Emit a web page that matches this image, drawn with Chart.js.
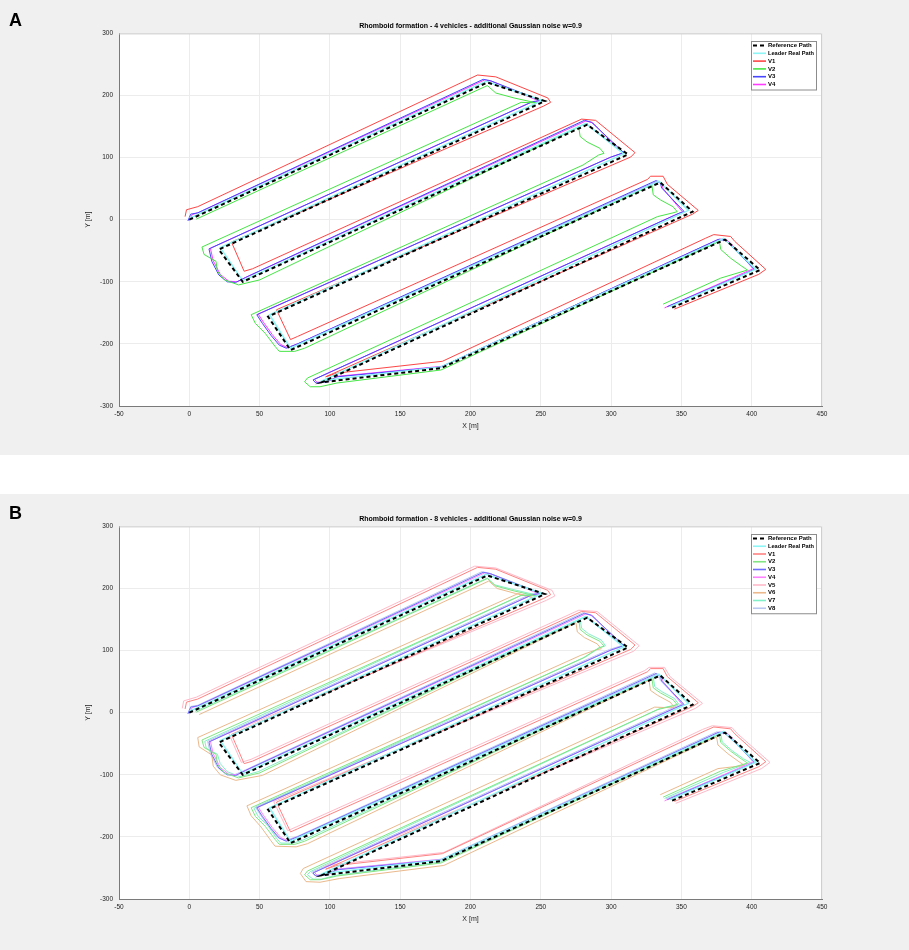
<!DOCTYPE html>
<html><head><meta charset="utf-8">
<script src="https://cdn.jsdelivr.net/npm/chart.js@4.4.1/dist/chart.umd.min.js"></script>
<style>
body{margin:0;width:909px;height:950px;background:#fff;position:relative;overflow:hidden;font-family:'Liberation Sans',Arial,sans-serif}
.panel{position:absolute;left:0;width:909px;background:#f0f0f0}
#pa{top:0;height:455px}
#pb{top:494px;height:456px}
.lbl{position:absolute;left:9px;font-weight:bold;font-size:18px;color:#000}
canvas{position:absolute;left:0;top:0}
</style></head><body>
<div class="panel" id="pa"><canvas id="ca" width="909" height="455"></canvas><div class="lbl" style="top:10px">A</div></div>
<div class="panel" id="pb"><canvas id="cb" width="909" height="456"></canvas><div class="lbl" style="top:9px">B</div></div>
<script>
// ---------- data (metres) ----------
const xTicks = [-50,0,50,100,150,200,250,300,350,400,450];
const yTicks = [-300,-200,-100,0,100,200,300];

const refX = [0,212,253,21,38,283,312,56,72,335,358,94,179,381,406,343];
const refY = [0,221,191,-48,-100,153,105,-156,-210,60,13,-262,-239,-32,-81,-142];

const leadX = [0,211,251,22,38,282,309,57,72,334,355,95,179,380,403,342];
const leadY = [2,223,192,-45,-98,155,106,-153,-207,62,15,-259,-237,-30,-80,-140];

// Panel A vehicles
const a1X = [-3,-2,6,205,218,255,257,252,30,39,45,279,289,317,314,62,72,77,326,328,337,340,362,358,97,105,180,367,373,385,388,410,405,345];
const a1Y = [5,16,21,233,230,196,189,183,-36,-83,-79,162,160,108,101,-145,-193,-188,65,70,70,57,15,9,-253,-247,-228,-30,-24,-27,-35,-80,-88,-144];

const a2X = [5,212,218,231,247,236,9,10.5,19,20,25,35,50,277,278,283,292,295,291,280,44,47,54,61,64,75,82,329,330,335,344,347,344,333,84,82,86,93,105,179,377,378,385,393,397,378,337];
const a2Y = [1,216,204,196,188,189,-44,-56,-67,-83,-97,-105,-97,149,134,125,115,107,104,88,-153,-167,-183,-204,-212,-212,-207,56,40,32,21,13,11,5,-255,-261,-269,-269,-263,-242,-35,-48,-62,-75,-81,-94,-136];

const a3X = [-1,1,6,209,214,250,244,14,16,21,27,33,40,281,286,309,300,48,52,58,64,69,77,332,335,336,352,349,345,88,90,98,105,179,376,381,384,402,395,340];
const a3Y = [-2,9,11,226,224,192,190,-47,-67,-89,-100,-101,-93,160,157,108,101,-153,-167,-186,-202,-207,-200,63,59,51,13,11,7,-258,-263,-261,-253,-237,-32,-33,-39,-80,-87,-140];

const a4X = [0,2,7,210,215,249,243,15,17,22,28,34,41,282,287,308,299,49,53,59,65,70,78,333,336,337,351,348,344,89,91,99,106,180,377,382,385,401,394,338];
const a4Y = [-1,8,12,225,223,191,189,-46,-66,-88,-99,-100,-92,159,156,107,100,-152,-166,-185,-201,-206,-199,62,58,50,12,10,6,-257,-262,-260,-252,-236,-31,-32,-38,-79,-86,-142];

// Panel B vehicles
const b1X = [-3,-2,6,205,218,255,257,252,30,39,45,279,289,317,314,62,72,77,326,328,337,340,362,358,97,105,180,367,373,385,388,410,405,345];
const b1Y = [6,17,22,234,231,197,190,184,-35,-82,-78,163,161,109,102,-144,-192,-187,66,71,71,58,16,10,-252,-246,-227,-29,-23,-26,-34,-79,-87,-143];
const b2X = [5,212,218,231,247,236,9,10.5,19,20,25,35,50,277,278,283,292,295,291,280,44,47,54,61,64,75,82,329,330,335,344,347,344,333,84,82,86,93,105,179,377,378,385,393,397,378,337];
const b2Y = [1,216,204,196,188,189,-44,-56,-67,-83,-97,-105,-97,149,134,125,115,107,104,88,-153,-167,-183,-204,-212,-212,-207,56,40,32,21,13,11,5,-255,-261,-269,-269,-263,-242,-35,-48,-62,-75,-81,-94,-136];
const b3X = [-1,1,6,209,214,250,244,14,16,21,27,33,40,281,286,309,300,48,52,58,64,69,77,332,335,336,352,349,345,88,90,98,105,179,376,381,384,402,395,340];
const b3Y = [-2,9,11,226,224,192,190,-47,-67,-89,-100,-101,-93,160,157,108,101,-153,-167,-186,-202,-207,-200,63,59,51,13,11,7,-258,-263,-261,-253,-237,-32,-33,-39,-80,-87,-140];
const b4X = [0,2,7,210,215,249,243,15,17,22,28,34,41,282,287,308,299,49,53,59,65,70,78,333,336,337,351,348,344,89,91,99,106,180,377,382,385,401,394,338];
const b4Y = [-1,8,12,225,223,191,189,-46,-66,-88,-99,-100,-92,159,156,107,100,-152,-166,-185,-201,-206,-199,62,58,50,12,10,6,-257,-262,-260,-252,-236,-31,-32,-38,-79,-86,-142];
const b5X = [-5,-4,5,203,218,258,260,254,28,37,44,277,290,320,316,60,70,76,324,327,338,342,365,360,96,104,181,365,372,386,390,413,407,346];
const b5Y = [7,19,25,236,233,197,188,181,-33,-80,-75,165,163,108,99,-143,-190,-184,68,73,73,58,15,7,-248,-244,-225,-27,-21,-24,-34,-80,-90,-146];
const b6X = [7,213,219,232,245,234,6,7,16,17,22,33,52,275,276,281,290,293,289,278,41,44,51,58,61,76,84,327,328,333,342,345,342,331,81,79,83,93,107,181,375,376,383,391,395,376,335];
const b6Y = [-3,212,200,192,185,192,-40,-55,-68,-86,-100,-109,-101,145,130,121,111,103,101,92,-150,-166,-184,-206,-215,-216,-211,52,36,28,17,9,8,9,-251,-259,-272,-273,-267,-246,-39,-52,-66,-79,-85,-90,-132];
const b7X = [4,212,217,231,248,238,11,12,20,22,27,36,49,278,279,284,293,296,292,282,46,49,56,62,65,74,81,330,331,336,345,348,345,335,86,84,88,94,104,179,378,379,386,394,399,380,338];
const b7Y = [2,217,206,198,189,191,-46,-57,-67,-82,-95,-103,-95,150,136,127,117,108,105,90,-154,-167,-182,-202,-210,-210,-205,57,42,34,23,14,12,7,-256,-261,-268,-268,-262,-240,-34,-47,-61,-74,-80,-96,-138];
const b8X = [-1,1,6,208,213,250,243,13,15,20,26,32,40,280,285,309,299,47,51,57,63,68,77,331,334,335,351,348,344,87,89,97,104,179,375,380,383,403,396,339];
const b8Y = [-1,10,12,227,225,193,191,-46,-66,-88,-99,-100,-92,161,158,109,102,-152,-166,-185,-201,-206,-199,64,60,52,14,12,8,-257,-262,-260,-252,-236,-31,-32,-38,-79,-86,-139];

// ---------- helpers ----------
const FONT = '"Liberation Sans", Arial, sans-serif';
function pts(xs, ys){ return xs.map((x,i)=>({x:x, y:ys[i]})); }
function ds(label, xs, ys, color, width, dash){
  return {label:label, data:pts(xs,ys), borderColor:color, backgroundColor:color,
    borderWidth:width, borderDash:dash||[], showLine:true, pointRadius:0, fill:false, tension:0};
}

const whiteArea = {
  id:'whiteArea',
  beforeDraw(c){
    const a=c.chartArea, ctx=c.ctx;
    ctx.save(); ctx.fillStyle='#ffffff'; ctx.fillRect(a.left,a.top,a.right-a.left,a.bottom-a.top);
    ctx.restore();
  },
  afterDraw(c){
    const a=c.chartArea, ctx=c.ctx;
    ctx.save(); ctx.strokeStyle='#cfcfcf'; ctx.lineWidth=1;
    ctx.beginPath(); ctx.moveTo(a.left,a.top+0.5); ctx.lineTo(a.right-0.5,a.top+0.5); ctx.lineTo(a.right-0.5,a.bottom); ctx.stroke();
    ctx.restore();
  }
};

const boxLegend = {
  id:'boxLegend',
  afterDatasetsDraw(c, args, opts){
    const ctx=c.ctx, d=c.data.datasets;
    const x0=opts.x, y0=opts.y, w=opts.w, rowH=opts.rowH;
    const h = 4.5 + rowH*(d.length-1) + 5;
    ctx.save();
    ctx.fillStyle='#ffffff'; ctx.fillRect(x0,y0,w,h);
    ctx.strokeStyle='#8c8c8c'; ctx.lineWidth=1; ctx.strokeRect(x0+0.5,y0+0.5,w,h);
    ctx.font='bold 6px ' + FONT;
    ctx.textBaseline='middle'; ctx.fillStyle='#000';
    d.forEach((s,i)=>{
      const yy = y0 + 4.5 + rowH*i;
      ctx.beginPath(); ctx.setLineDash(s.borderDash||[]);
      ctx.strokeStyle=s.borderColor; ctx.lineWidth=Math.max(1.6, s.borderWidth);
      ctx.moveTo(x0+2,yy); ctx.lineTo(x0+15,yy); ctx.stroke();
      ctx.setLineDash([]);
      ctx.fillStyle='#000';
      ctx.fillText(s.label, x0+17, yy, w-19);
    });
    ctx.restore();
  }
};

function makeChart(id, title, datasets, legendY, rowH, padTop, padBottom){
  return new Chart(document.getElementById(id), {
    type:'scatter',
    data:{datasets:datasets},
    plugins:[whiteArea, boxLegend],
    options:{
      responsive:false, animation:false, devicePixelRatio:1,
      layout:{padding:{left:80,right:87,top:padTop,bottom:padBottom}},
      plugins:{
        legend:{display:false}, tooltip:{enabled:false},
        title:{display:true, fullSize:false, text:title, color:'#000', font:{family:FONT, size:7, weight:'bold'}, padding:{top:0,bottom:3}},
        boxLegend:{x:751, y:legendY, w:65, rowH:rowH}
      },
      scales:{
        x:{type:'linear', min:-50, max:450,
          afterBuildTicks:(s)=>{ s.ticks = xTicks.map(v=>({value:v})); },
          afterFit:(s)=>{ s.height=24; },
          grid:{color:'#ececec', drawTicks:false},
          border:{color:'#7a7a7a'},
          ticks:{padding:4, color:'#222', font:{family:FONT, size:6.5}, maxRotation:0},
          title:{display:true, text:'X [m]', color:'#222', font:{family:FONT, size:7}, padding:{top:1,bottom:0}}
        },
        y:{type:'linear', min:-300, max:300,
          afterBuildTicks:(s)=>{ s.ticks = yTicks.map(v=>({value:v})); },
          afterFit:(s)=>{ s.width=39; },
          grid:{color:'#ececec', drawTicks:false},
          border:{color:'#7a7a7a'},
          ticks:{padding:6, color:'#222', font:{family:FONT, size:6.5}},
          title:{display:true, text:'Y [m]', color:'#222', font:{family:FONT, size:7}, padding:{top:4,bottom:0}}
        }
      }
    }
  });
}

const dashRef = [4,3];
makeChart('ca','Rhomboid formation - 4 vehicles - additional Gaussian noise w=0.9',[
  ds('Reference Path', refX, refY, '#000000', 2, dashRef),
  ds('Leader Real Path', leadX, leadY, 'rgb(140,245,245)', 1.5),
  ds('V1', a1X, a1Y, 'rgb(255,70,70)', 1),
  ds('V2', a2X, a2Y, 'rgb(70,230,70)', 1),
  ds('V3', a3X, a3Y, 'rgb(70,70,255)', 1),
  ds('V4', a4X, a4Y, 'rgb(255,60,255)', 1)
], 41, 7.8, 22, 25);

makeChart('cb','Rhomboid formation - 8 vehicles - additional Gaussian noise w=0.9',[
  ds('Reference Path', refX, refY, '#000000', 2, dashRef),
  ds('Leader Real Path', leadX, leadY, 'rgb(140,245,245)', 1.5),
  ds('V1', b1X, b1Y, 'rgb(255,130,130)', 1),
  ds('V2', b2X, b2Y, 'rgb(130,230,130)', 1),
  ds('V3', b3X, b3Y, 'rgb(110,110,255)', 1),
  ds('V4', b4X, b4Y, 'rgb(255,130,255)', 1),
  ds('V5', b5X, b5Y, 'rgb(255,185,200)', 1),
  ds('V6', b6X, b6Y, 'rgb(235,185,140)', 1),
  ds('V7', b7X, b7Y, 'rgb(130,240,200)', 1),
  ds('V8', b8X, b8Y, 'rgb(185,200,240)', 1)
], 40, 7.75, 21, 27);
</script>
</body></html>
